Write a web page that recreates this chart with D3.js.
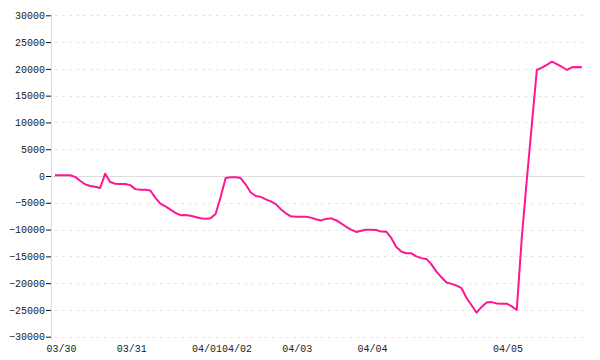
<!DOCTYPE html>
<html>
<head>
<meta charset="utf-8">
<script src="https://cdn.jsdelivr.net/npm/d3@7"></script>
<style>
  html, body { margin: 0; padding: 0; background: #fff; }
  svg { display: block; }
  text { font-family: "Liberation Mono", "DejaVu Sans Mono", monospace; font-size: 10px; fill: #222; }
</style>
</head>
<body>
<svg id="chart" width="600" height="360"></svg>
<script>
// ---- data ----
const values = [
  130, 130, 130, 130, -170, -880, -1550, -1870, -2010, -2240,
  430, -1120, -1440, -1490, -1490, -1700, -2450, -2560, -2560, -2700,
  -4090, -5170, -5680, -6290, -6870, -7320, -7300, -7410, -7650, -7880,
  -7970, -7880, -7080, -3920, -370, -240, -240, -390, -1590, -3080,
  -3730, -3900, -4350, -4740, -5250, -6200, -6960, -7520, -7600, -7600,
  -7600, -7770, -8080, -8290, -8010, -7900, -8250, -8850, -9480, -10020,
  -10440, -10230, -10040, -10020, -10080, -10380, -10400, -11560, -13270, -14110,
  -14430, -14430, -15010, -15330, -15480, -16490, -17850, -18910, -19880, -20140,
  -20460, -20950, -22780, -24120, -25520, -24440, -23600, -23540, -23780, -23840,
  -23840, -24330, -25020, -11570, -750, 9520, 19790, 20240, 20760, 21340,
  20890, 20390, 19790, 20290, 20350, 20290
];
const xTickIndex = [1, 15, 30, 36, 48, 63, 90];
const xTickLabels = ["03/30", "03/31", "04/01", "04/02", "04/03", "04/04", "04/05"];
const yTicks = [-30000, -25000, -20000, -15000, -10000, -5000, 0, 5000, 10000, 15000, 20000, 25000, 30000];

// ---- chart ----
const svg = d3.select("#chart");
const x = d3.scaleLinear().domain([0, values.length - 1]).range([55, 582]);
const y = d3.scaleLinear().domain([-30000, 30000]).range([336.7, 15.3]);

// grid lines
svg.append("g").selectAll("line")
  .data(yTicks.filter(d => d !== 0))
  .join("line")
  .attr("x1", 55).attr("x2", 585)
  .attr("y1", d => Math.round(y(d)) + 0.5).attr("y2", d => Math.round(y(d)) + 0.5)
  .attr("stroke", "#e6e6e6")
  .attr("stroke-dasharray", "3,4");

// zero line
svg.append("line")
  .attr("x1", 52).attr("x2", 585)
  .attr("y1", Math.round(y(0)) + 0.5).attr("y2", Math.round(y(0)) + 0.5)
  .attr("stroke", "#dddddd");

// y axis line
svg.append("line")
  .attr("x1", 51.5).attr("x2", 51.5)
  .attr("y1", 14).attr("y2", 340)
  .attr("stroke", "#dddddd");

// y axis ticks & labels
const yAxis = d3.axisLeft(y).tickValues(yTicks).tickSize(5).tickPadding(1).tickFormat(d3.format("d"));
svg.append("g")
  .attr("transform", "translate(51,0)")
  .call(yAxis)
  .call(g => g.select(".domain").remove())
  .call(g => g.selectAll(".tick line").attr("stroke", "#111"))
  .call(g => g.selectAll(".tick text")
    .attr("fill", "#222")
    .style("font-family", "'Liberation Mono', 'DejaVu Sans Mono', monospace")
    .style("font-size", "10px"));

// x labels
svg.append("g").selectAll("text")
  .data(xTickIndex)
  .join("text")
  .attr("x", (d) => x(d) + 1.4)
  .attr("y", 352)
  .attr("text-anchor", "middle")
  .text((d, i) => xTickLabels[i]);

// line
const line = d3.line()
  .x((d, i) => x(i))
  .y(d => y(d));

svg.append("path")
  .datum(values)
  .attr("fill", "none")
  .attr("stroke", "#ff1493")
  .attr("stroke-width", 2)
  .attr("stroke-linejoin", "round")
  .attr("d", line);
</script>
</body>
</html>
